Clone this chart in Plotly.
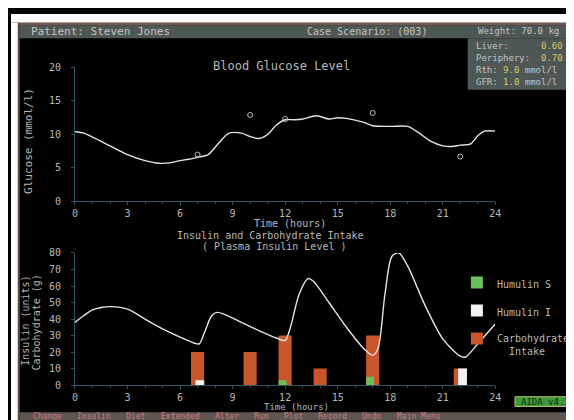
import plotly.graph_objects as go

W, H = 574, 420

# ---------------- data ----------------
glucose_hours = [0, 0.5, 1, 2, 3, 4, 4.8, 5.5, 6, 6.5, 7, 7.6, 8.3, 8.8, 9.5, 10, 10.5, 11,
                 11.5, 12, 12.5, 13, 13.8, 14.5, 15, 15.5, 16.5, 17, 18, 19, 19.6, 20.3, 21,
                 21.5, 22, 22.6, 23, 23.4, 24]
glucose_values = [10.4, 10.2, 9.6, 8.3, 7.0, 6.1, 5.7, 5.8, 6.1, 6.3, 6.6, 7.0, 9.0, 10.2, 10.2,
                  9.7, 9.4, 10.0, 11.4, 12.2, 12.2, 12.3, 12.8, 12.3, 12.5, 12.4, 11.8, 11.3,
                  11.2, 11.2, 10.3, 9.0, 8.3, 8.2, 8.4, 8.6, 9.8, 10.5, 10.5]
measured_hours = [7, 10, 12, 17, 22]
measured_values = [7.0, 12.9, 12.3, 13.2, 6.7]

insulin_hours = [0, 0.5, 1, 1.5, 2, 3, 4, 5, 6, 6.8, 7.1, 7.4, 7.8, 8.1, 8.5, 9.5, 10.5, 11.5,
                 12, 12.3, 12.8, 13.3, 13.6, 14.5, 15.5, 16.5, 17, 17.3, 17.7, 18.1, 18.5, 19,
                 20, 21, 22, 22.3, 23, 24]
insulin_values = [38, 42, 45.5, 47, 47.5, 46, 40, 34, 29, 25.5, 25, 32, 42, 44, 43, 38, 33, 28.5,
                  27, 35, 55, 64.5, 63, 50, 35, 22, 18, 22, 55, 78, 80, 72, 48, 28, 17.5, 17,
                  25, 37]

meal_hours = [7, 10, 12, 14, 17, 22]
carb_grams = [20, 20, 30, 10, 30, 10]
humulin_s_hours = [12, 17]
humulin_s_units = [3, 5]
humulin_i_hours = [7, 22]
humulin_i_units = [3, 10]

time_ticks = [0, 3, 6, 9, 12, 15, 18, 21, 24]
glucose_ticks = [0, 5, 10, 15, 20]
insulin_ticks = [0, 10, 20, 30, 40, 50, 60, 70, 80]

# ---------------- style ----------------
FONT = "DejaVu Sans Mono"
TXT = "#b8b8b8"
AXC = "#2d5568"
CURVE = "#e4e4e4"
ORANGE = "#c9562b"
GREEN = "#6cc05c"
WHITE = "#f2f2f2"
FRAME = "#4d5754"


def px(x):
    return x / W


def py(y):
    return 1 - y / H


fig = go.Figure()

fig.add_trace(go.Scatter(x=glucose_hours, y=glucose_values, mode="lines",
                         line=dict(color=CURVE, width=1.4, shape="spline", smoothing=0.8),
                         xaxis="x", yaxis="y", showlegend=False, hoverinfo="skip"))
fig.add_trace(go.Scatter(x=measured_hours, y=measured_values, mode="markers",
                         marker=dict(symbol="circle-open", size=5, color="#bdbdbd", line=dict(width=1)),
                         xaxis="x", yaxis="y", showlegend=False))

fig.add_trace(go.Bar(x=meal_hours, y=carb_grams, width=0.75, offset=-0.375,
                     marker=dict(color=ORANGE, line=dict(width=0)),
                     name="Carbohydrate<br>  Intake", legendrank=3, legendgroup="c",
                     xaxis="x2", yaxis="y2"))
fig.add_trace(go.Bar(x=humulin_s_hours, y=humulin_s_units, width=0.45, offset=-0.37,
                     marker=dict(color=GREEN, line=dict(width=0)),
                     name="Humulin S", legendrank=1, legendgroup="s",
                     xaxis="x2", yaxis="y2"))
fig.add_trace(go.Bar(x=humulin_i_hours, y=humulin_i_units, width=0.5, offset=-0.12,
                     marker=dict(color=WHITE, line=dict(width=0)),
                     name="Humulin I", legendrank=2, legendgroup="i",
                     xaxis="x2", yaxis="y2"))
fig.add_trace(go.Scatter(x=insulin_hours, y=insulin_values, mode="lines",
                         line=dict(color=CURVE, width=1.4, shape="spline", smoothing=0.8),
                         xaxis="x2", yaxis="y2", showlegend=False, hoverinfo="skip"))

axis_common = dict(showgrid=False, zeroline=False, showline=True, linecolor=AXC, linewidth=1,
                   ticks="outside", tickcolor=AXC, ticklen=3, tickwidth=1,
                   tickfont=dict(family=FONT, size=10, color=TXT))
xdom = [px(65), px(492)]
xaxis_common = dict(axis_common, range=[0, 24], tickvals=time_ticks, domain=xdom,
                    minor=dict(dtick=1, ticks="outside", ticklen=2, tickcolor=AXC))

fig.update_layout(
    width=W, height=H,
    margin=dict(l=0, r=0, t=0, b=0),
    paper_bgcolor="black", plot_bgcolor="black",
    barmode="overlay",
    xaxis=dict(xaxis_common, anchor="y"),
    yaxis=dict(axis_common, range=[0, 20], tickvals=glucose_ticks,
               domain=[py(193), py(55)], anchor="x", ticklabelstandoff=8),
    xaxis2=dict(xaxis_common, anchor="y2"),
    yaxis2=dict(axis_common, range=[0, 80], tickvals=insulin_ticks,
                domain=[py(382), py(246)], anchor="x2", ticklabelstandoff=8),
    legend=dict(x=px(453), y=py(263), xanchor="left", yanchor="top",
                font=dict(family=FONT, size=10, color=TXT), bgcolor="rgba(0,0,0,0)",
                tracegroupgap=9, valign="top", itemclick=False),
    showlegend=True,
)


def rect(x0, y0, x1, y1, fill, line=None):
    d = dict(type="rect", xref="paper", yref="paper", x0=px(x0), x1=px(x1),
             y0=py(y1), y1=py(y0), fillcolor=fill, layer="below")
    if line:
        d["line"] = dict(color=line, width=1)
    else:
        d["line"] = dict(width=0)
    return d


shapes = [
    rect(0, 0, W, 9, "white"),
    rect(0, 9, W, 12, "#6e5a52"),
    rect(0, 9, 7, H, "white"),
    rect(7, 9, 9, H, "#5e4a44"),
    rect(9, 12, W, 25, FRAME),
    rect(464, 25, W, 78, FRAME),
    rect(9, 410, W, H, "#5f5652"),
    rect(512, 394, W + 2, 404, "#3e9a3c", line="#b8c070"),
]
fig.update_layout(shapes=shapes)

annots = []


def note(text, x, y, size=11, color=TXT, xanchor="left", angle=0):
    annots.append(dict(text=text, x=px(x), y=py(y), xref="paper", yref="paper",
                       showarrow=False, xanchor=xanchor, yanchor="middle", textangle=angle,
                       font=dict(family=FONT, size=size, color=color)))


note("Patient: Steven Jones", 18, 18, size=11, color="#c4c4c4")
note("Case Scenario: (003)", 425, 18, size=10, color="#c4c4c4", xanchor="right")
note("Weight: 70.0 kg", 472, 18, size=9, color="#c4c4c4")
note("Liver:      <span style='color:#d8c86a'>0.60</span>", 470, 33, size=9, color="#c4c4c4")
note("Periphery:  <span style='color:#d8c86a'>0.70</span>", 470, 45, size=9, color="#c4c4c4")
note("Rth: <span style='color:#d8c86a'>9.0</span> mmol/l", 470, 58, size=9, color="#c4c4c4")
note("GFR: <span style='color:#d8c86a'>1.0</span> mmol/l", 470, 70, size=9, color="#c4c4c4")

note("Blood Glucose Level", 275, 54, size=12, xanchor="center")
note("Glucose (mmol/l)", 18, 131, size=11, xanchor="center", angle=-90)
note("Time (hours)", 283, 216, size=10, xanchor="center")

note("Insulin and Carbohydrate Intake", 264, 228, size=10, xanchor="center")
note("( Plasma Insulin Level )", 268, 239, size=10, xanchor="center")
note("Insulin (units)", 15, 316, size=10, xanchor="center", angle=-90)
note("Carbohydrate (g)", 26, 318, size=10, xanchor="center", angle=-90)
note("Time (hours)", 290, 405, size=9, xanchor="center")

note("AIDA v4.3", 543, 399, size=9, color="#0e2a0e", xanchor="center")

menu = ["Change", "Insulin", "Diet", "Extended", "Alter", "Run", "Plot", "Record", "Undo", "Main Menu"]
mx = 20
for item in menu:
    note(item, mx, 414.5, size=8, color="#d07a78")
    mx += len(item) * 5 + 15

fig.update_layout(annotations=annots)

fig.write_html("out.html")
